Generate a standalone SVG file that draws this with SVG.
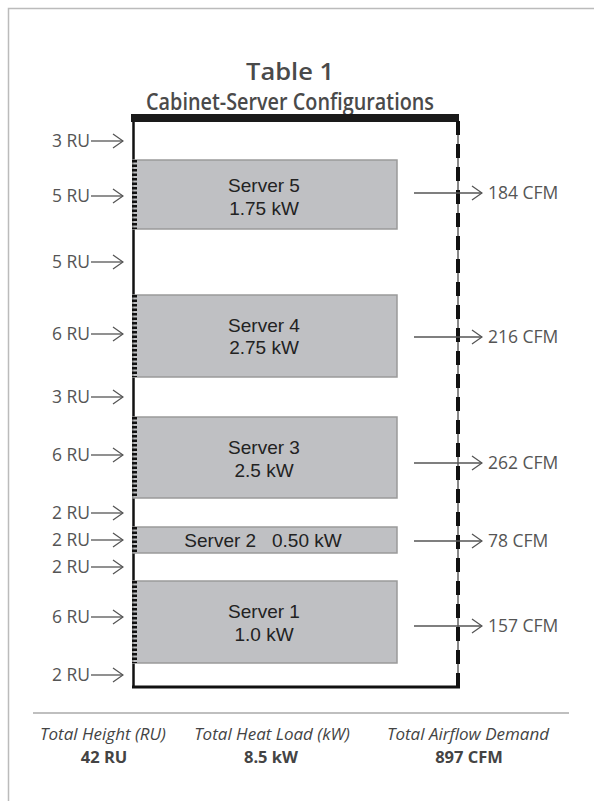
<svg xmlns="http://www.w3.org/2000/svg" width="594" height="801" viewBox="0 0 594 801">
<defs>
<style>
.lbl{font-family:"Open Sans","DejaVu Sans",sans-serif;font-size:17.5px;fill:#555}
.srv{font-family:"Liberation Sans",Arial,sans-serif;font-size:19px;fill:#222;text-anchor:middle}
.ttl{font-family:"Open Sans","DejaVu Sans",sans-serif;font-size:23px;font-weight:600;fill:#4a4a4a;text-anchor:middle}
.cap{font-family:"Open Sans","DejaVu Sans",sans-serif;font-size:17px;font-style:italic;fill:#444;text-anchor:middle}
.val{font-family:"Open Sans","DejaVu Sans",sans-serif;font-size:16.5px;font-weight:bold;fill:#444;text-anchor:middle}
.box{fill:#bfc0c3;stroke:#9a9a9a;stroke-width:1.5}
.ladder{stroke:#111;stroke-width:5;stroke-dasharray:2.5 2;fill:none}
.arr{stroke:#555;stroke-width:1.3;fill:none}
</style>
<marker id="chev" viewBox="0 0 12 16" refX="11" refY="8" markerWidth="12" markerHeight="16" markerUnits="userSpaceOnUse" orient="auto">
<path d="M1,1 L11,8 L1,15" fill="none" stroke="#555" stroke-width="1.3"/>
</marker>
</defs>
<rect x="8.5" y="8.5" width="700" height="900" fill="#fff" stroke="#bbb" stroke-width="1.5"/>
<g id="title">
<text class="ttl" x="290" y="80" textLength="88" lengthAdjust="spacingAndGlyphs">Table 1</text>
<text class="ttl" x="290" y="110" textLength="288" lengthAdjust="spacingAndGlyphs">Cabinet-Server Configurations</text>
</g>
<g id="cabinet">
<rect x="131" y="114" width="328" height="8" fill="#1a1a1a"/>
<line x1="133.5" y1="122" x2="133.5" y2="688" stroke="#111" stroke-width="2.5"/>
<line x1="458" y1="122" x2="458" y2="688" stroke="#111" stroke-width="1"/>
<line x1="458" y1="121" x2="458" y2="688" stroke="#111" stroke-width="4" stroke-dasharray="14 9"/>
<line x1="132" y1="687" x2="460" y2="687" stroke="#111" stroke-width="3"/>
</g>
<g id="server5">
<rect class="box" x="133" y="160" width="264" height="69"/>
<line class="ladder" x1="134.5" y1="160" x2="134.5" y2="229"/>
<text class="srv" x="264" y="192">Server 5</text>
<text class="srv" x="264" y="215">1.75 kW</text>
</g>
<g id="server4">
<rect class="box" x="133" y="295" width="264" height="82"/>
<line class="ladder" x1="134.5" y1="295" x2="134.5" y2="377"/>
<text class="srv" x="264" y="332">Server 4</text>
<text class="srv" x="264" y="354">2.75 kW</text>
</g>
<g id="server3">
<rect class="box" x="133" y="417" width="264" height="81"/>
<line class="ladder" x1="134.5" y1="417" x2="134.5" y2="498"/>
<text class="srv" x="264" y="454">Server 3</text>
<text class="srv" x="264" y="477">2.5 kW</text>
</g>
<g id="server2">
<rect class="box" x="133" y="527" width="264" height="26"/>
<line class="ladder" x1="134.5" y1="527" x2="134.5" y2="553"/>
<text class="srv" x="263" y="547" xml:space="preserve" style="white-space:pre">Server 2   0.50 kW</text>
</g>
<g id="server1">
<rect class="box" x="133" y="581" width="264" height="82"/>
<line class="ladder" x1="134.5" y1="581" x2="134.5" y2="663"/>
<text class="srv" x="264" y="618">Server 1</text>
<text class="srv" x="264" y="641">1.0 kW</text>
</g>
<g id="connectors">
<line class="arr" x1="91" y1="141" x2="123" y2="141" marker-end="url(#chev)"/>
<line class="arr" x1="91" y1="196" x2="123" y2="196" marker-end="url(#chev)"/>
<line class="arr" x1="91" y1="262" x2="123" y2="262" marker-end="url(#chev)"/>
<line class="arr" x1="91" y1="334" x2="123" y2="334" marker-end="url(#chev)"/>
<line class="arr" x1="91" y1="397" x2="123" y2="397" marker-end="url(#chev)"/>
<line class="arr" x1="91" y1="455" x2="123" y2="455" marker-end="url(#chev)"/>
<line class="arr" x1="91" y1="513" x2="123" y2="513" marker-end="url(#chev)"/>
<line class="arr" x1="91" y1="540" x2="123" y2="540" marker-end="url(#chev)"/>
<line class="arr" x1="91" y1="567" x2="123" y2="567" marker-end="url(#chev)"/>
<line class="arr" x1="91" y1="617" x2="123" y2="617" marker-end="url(#chev)"/>
<line class="arr" x1="91" y1="675" x2="123" y2="675" marker-end="url(#chev)"/>
<line class="arr" x1="414" y1="193" x2="482" y2="193" marker-end="url(#chev)"/>
<line class="arr" x1="414" y1="337" x2="482" y2="337" marker-end="url(#chev)"/>
<line class="arr" x1="414" y1="463" x2="482" y2="463" marker-end="url(#chev)"/>
<line class="arr" x1="414" y1="541" x2="482" y2="541" marker-end="url(#chev)"/>
<line class="arr" x1="414" y1="626" x2="482" y2="626" marker-end="url(#chev)"/>
</g>
<g id="left-labels" class="lbl" text-anchor="end">
<text x="90" y="147">3 RU</text>
<text x="90" y="202">5 RU</text>
<text x="90" y="268">5 RU</text>
<text x="90" y="340">6 RU</text>
<text x="90" y="403">3 RU</text>
<text x="90" y="461">6 RU</text>
<text x="90" y="519">2 RU</text>
<text x="90" y="546">2 RU</text>
<text x="90" y="573">2 RU</text>
<text x="90" y="623">6 RU</text>
<text x="90" y="681">2 RU</text>
</g>
<g id="right-labels" class="lbl">
<text x="488" y="199">184 CFM</text>
<text x="488" y="343">216 CFM</text>
<text x="488" y="469">262 CFM</text>
<text x="488" y="547">78 CFM</text>
<text x="488" y="632">157 CFM</text>
</g>
<g id="totals">
<line x1="33" y1="713" x2="569" y2="713" stroke="#aaa" stroke-width="1.3"/>
<text class="cap" x="103" y="740">Total Height (RU)</text>
<text class="cap" x="272" y="740">Total Heat Load (kW)</text>
<text class="cap" x="468" y="740">Total Airflow Demand</text>
<text class="val" x="104" y="763">42 RU</text>
<text class="val" x="271" y="763">8.5 kW</text>
<text class="val" x="469" y="763">897 CFM</text>
</g>
</svg>
